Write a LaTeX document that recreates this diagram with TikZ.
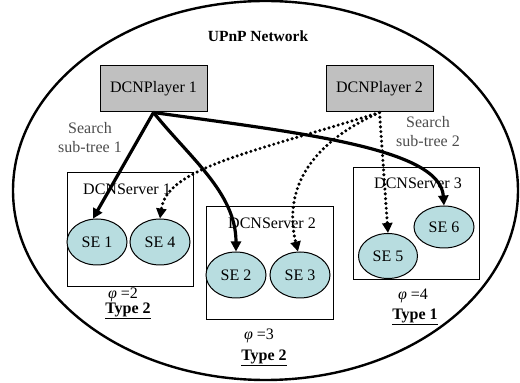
\documentclass[tikz,border=0pt]{standalone}
\usepackage{fontspec}
\setmainfont{Liberation Serif}
\usetikzlibrary{arrows.meta,shapes.geometric}
\definecolor{segray}{RGB}{192,192,192}
\definecolor{seteal}{RGB}{184,221,224}
\begin{document}
\begin{tikzpicture}[x=1pt,y=1pt,
  every node/.style={font=\fontsize{16}{19}\selectfont},
  player/.style={draw,fill=segray,line width=1pt,minimum width=107pt,minimum height=46pt,inner sep=0pt},
  srvbox/.style={draw,line width=1pt,inner sep=0pt},
  sebub/.style={ellipse,draw,fill=seteal,line width=1pt,minimum width=60pt,minimum height=46pt,inner sep=0pt},
  solidarr/.style={line width=3.2pt,-{Triangle[length=10pt,width=10pt]}},
  dotarr/.style={line width=3.4pt,line cap=round,dash pattern=on 0pt off 4.8pt,-{Triangle[length=10pt,width=10pt]}},
  lbl/.style={inner sep=0pt},
  greylbl/.style={inner sep=0pt,text=black!70,align=center}
]
\useasboundingbox (0,0) rectangle (520,383);
\node[draw,ellipse,line width=2.4pt,minimum width=505pt,minimum height=379pt,inner sep=0pt] (net) at (265.5,192.5) {};
\node[lbl,font=\fontsize{15.5}{19}\selectfont\bfseries] (title) at (258,347) {UPnP Network};

\node[player] (p1) at (153.5,294) {DCNPlayer 1};
\node[player] (p2) at (379.5,294) {DCNPlayer 2};

\node[greylbl] (s1) at (90,245) {Search\\sub-tree 1};
\node[greylbl] (s2) at (428,251) {Search\\sub-tree 2};

\node[srvbox,minimum width=126pt,minimum height=114pt] (srv1) at (130,153) {};
\node[srvbox,minimum width=127pt,minimum height=113pt] (srv2) at (269.5,119.5) {};
\node[srvbox,minimum width=126pt,minimum height=112pt] (srv3) at (416,159) {};
\node[lbl] (srv1l) at (127,194) {DCNServer 1};
\node[lbl] (srv2l) at (272,160) {DCNServer 2};
\node[lbl] (srv3l) at (418,200) {DCNServer 3};

\node[sebub] (se1) at (97,141) {SE 1};
\node[sebub] (se4) at (160,141) {SE 4};
\node[sebub] (se2) at (236,108) {SE 2};
\node[sebub] (se3) at (300,108) {SE 3};
\node[sebub,minimum width=59pt,minimum height=45pt] (se5) at (388,127) {SE 5};
\node[sebub,minimum height=42pt] (se6) at (444,156) {SE 6};

\node[lbl] (phi1) at (123,88) {\textit{φ} =2};
\node[lbl,font=\fontsize{16}{19}\selectfont\bfseries] (t1) at (128,72) {\underline{Type 2}};
\node[lbl] (phi2) at (259,47) {\textit{φ} =3};
\node[lbl,font=\fontsize{16}{19}\selectfont\bfseries] (t2) at (264,25) {\underline{Type 2}};
\node[lbl] (phi3) at (413,87) {\textit{φ} =4};
\node[lbl,font=\fontsize{16}{19}\selectfont\bfseries] (t3) at (415,66) {\underline{Type 1}};

\draw[solidarr] (p1.south) -- (se1.100);
\draw[solidarr] (p1.south) .. controls (190,225) and (236,190) .. (se2.north);
\draw[solidarr] (p1.south) .. controls (300,250) and (440,235) .. (se6.north);

\draw[dotarr] (p2.south) .. controls (250,230) and (167,215) .. (se4.north);
\draw[dotarr] (p2.south) .. controls (300,235) and (285,185) .. (se3.95);
\draw[dotarr] (p2.south) -- (se5.north);
\end{tikzpicture}
\end{document}
